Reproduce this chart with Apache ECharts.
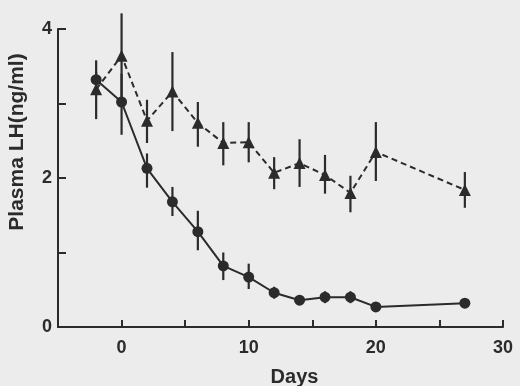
<!DOCTYPE html>
<html>
<head>
<meta charset="utf-8">
<script src="https://cdn.jsdelivr.net/npm/echarts@6/dist/echarts.min.js"></script>
<style>
  html, body { margin: 0; padding: 0; background: #ececec; }
  #chart { width: 520px; height: 386px; }
</style>
</head>
<body>
<div id="chart"></div>
<script>
// days after transfer
var days = [-2, 0, 2, 4, 6, 8, 10, 12, 14, 16, 18, 20, 27];

// solid line, circles
var circleMean = [3.32, 3.02, 2.13, 1.68, 1.28, 0.82, 0.67, 0.46, 0.36, 0.40, 0.40, 0.27, 0.32];
var circleLow  = [3.22, 2.58, 1.87, 1.49, 1.03, 0.63, 0.51, 0.38, 0.36, 0.32, 0.32, 0.27, 0.32];
var circleHigh = [3.42, 3.40, 2.33, 1.88, 1.56, 1.00, 0.85, 0.54, 0.36, 0.48, 0.48, 0.27, 0.32];

// dashed line, triangles
var triMean = [3.19, 3.64, 2.77, 3.16, 2.74, 2.47, 2.48, 2.07, 2.20, 2.04, 1.80, 2.35, 1.84];
var triLow  = [2.79, 3.07, 2.47, 2.63, 2.42, 2.17, 2.21, 1.85, 1.88, 1.79, 1.54, 1.96, 1.60];
var triHigh = [3.58, 4.21, 3.05, 3.69, 3.02, 2.75, 2.75, 2.28, 2.52, 2.31, 2.03, 2.75, 2.08];

var xLabels = [0, 10, 20, 30];
var yLabels = [0, 2, 4];

var ink = '#2b2b2b';
var font = 'Liberation Sans';

function pairs(ys) {
    return days.map(function (d, i) { return [d, ys[i]]; });
}
function bars(lo, hi) {
    return days.map(function (d, i) { return [d, lo[i], hi[i]]; });
}
function errorSeries(lo, hi) {
    return {
        type: 'custom',
        data: bars(lo, hi),
        z: 1,
        renderItem: function (params, api) {
            var a = api.coord([api.value(0), api.value(1)]);
            var b = api.coord([api.value(0), api.value(2)]);
            return {
                type: 'line',
                shape: { x1: a[0], y1: a[1], x2: b[0], y2: b[1] },
                style: { stroke: ink, lineWidth: 2.2 }
            };
        }
    };
}

var myChart = echarts.init(document.getElementById('chart'));
myChart.setOption({
    backgroundColor: '#ececec',
    animation: false,
    grid: { left: 58, right: 17, top: 29, bottom: 59, containLabel: false, outerBoundsMode: 'none' },
    xAxis: {
        type: 'value',
        min: -5,
        max: 30,
        interval: 5,
        name: 'Days',
        nameLocation: 'middle',
        nameGap: 40,
        nameTextStyle: { color: ink, fontFamily: font, fontWeight: 'bold', fontSize: 20, padding: [0, 0, 0, 28] },
        axisLine: { onZero: false, lineStyle: { color: ink, width: 2 } },
        axisTick: { inside: true, length: 7, lineStyle: { color: ink, width: 2 } },
        axisLabel: {
            color: ink, fontFamily: font, fontWeight: 'bold', fontSize: 18, margin: 12,
            formatter: function (v) { return xLabels.indexOf(v) >= 0 ? String(v) : ''; }
        },
        splitLine: { show: false }
    },
    yAxis: {
        type: 'value',
        min: 0,
        max: 4,
        interval: 1,
        name: 'Plasma LH(ng/ml)',
        nameLocation: 'middle',
        nameRotate: 90,
        nameGap: 30,
        nameTextStyle: { color: ink, fontFamily: font, fontWeight: 'bold', fontSize: 21, padding: [0, 0, 0, 72] },
        axisLine: { show: true, onZero: false, lineStyle: { color: ink, width: 2 } },
        axisTick: { show: true, inside: true, length: 8, lineStyle: { color: ink, width: 2 } },
        axisLabel: {
            color: ink, fontFamily: font, fontWeight: 'bold', fontSize: 18, margin: 6,
            formatter: function (v) { return yLabels.indexOf(v) >= 0 ? String(v) : ''; }
        },
        splitLine: { show: false }
    },
    series: [
        errorSeries(triLow, triHigh),
        errorSeries(circleLow, circleHigh),
        {
            type: 'line',
            data: pairs(triMean),
            symbol: 'triangle',
            symbolSize: 12,
            z: 3,
            itemStyle: { color: ink },
            lineStyle: { color: ink, width: 2, type: [6, 4] }
        },
        {
            type: 'line',
            data: pairs(circleMean),
            symbol: 'circle',
            symbolSize: 11,
            z: 3,
            itemStyle: { color: ink },
            lineStyle: { color: ink, width: 2 }
        }
    ]
});
</script>
</body>
</html>
